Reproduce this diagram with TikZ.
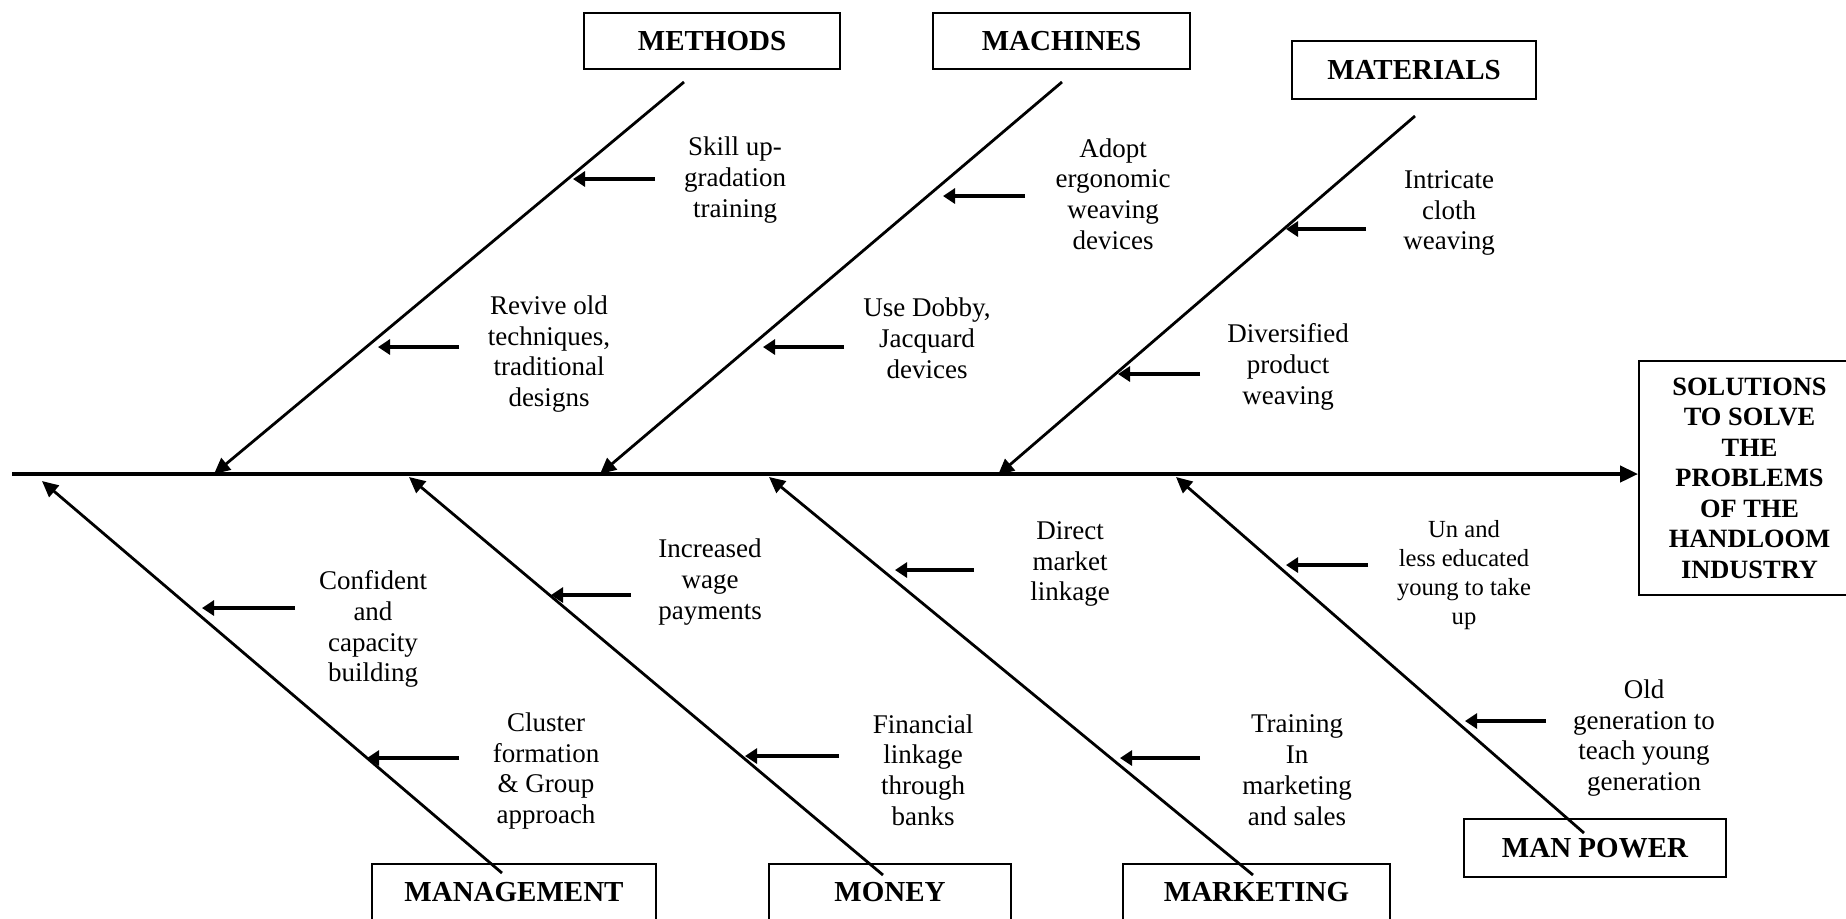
\documentclass[tikz,border=0pt]{standalone}
\usepackage{fontspec}
\setmainfont{Liberation Serif}
\usetikzlibrary{arrows.meta}
\begin{document}
\begin{tikzpicture}[x=0.5pt,y=-0.5pt,
  catbox/.style={draw, line width=0.9pt, inner sep=0pt, minimum height=28pt,
    font=\fontsize{14.5}{17}\selectfont\bfseries},
  resbox/.style={draw, line width=0.9pt, inner sep=0pt, align=center,
    font=\fontsize{13.2}{15.25}\selectfont\bfseries},
  lbl/.style={inner sep=0pt, align=center, font=\fontsize{13.5}{15.4}\selectfont},
  lblsmall/.style={inner sep=0pt, align=center, font=\fontsize{12.3}{14.6}\selectfont},
  spine/.style={line width=2pt, -{Triangle[length=9pt,width=8pt]}},
  bone/.style={line width=1.4pt, -{Triangle[length=8pt,width=7.5pt]}},
  cause/.style={line width=2pt, -{Triangle[length=6pt,width=7.5pt]}}
]
\useasboundingbox (0,0) rectangle (1846,918);

% effect box
\node[resbox, minimum width=110.5pt, minimum height=117pt] (res) at (1749.5,478)
  {SOLUTIONS\\TO SOLVE\\THE\\PROBLEMS\\OF THE\\HANDLOOM\\INDUSTRY};

% spine
\coordinate (sp0) at (12,474);
\draw[spine] (sp0) -- (sp0 -| res.west);

% category boxes
\node[catbox, minimum width=128pt] (meth) at (712,41) {METHODS};
\node[catbox, minimum width=128.5pt] (mach) at (1061.5,41) {MACHINES};
\node[catbox, minimum width=122pt, minimum height=29pt] (mat) at (1414,70) {MATERIALS};
\node[catbox, minimum width=142pt] (mgmt) at (514,892) {MANAGEMENT};
\node[catbox, minimum width=121pt] (mon) at (890,892) {MONEY};
\node[catbox, minimum width=133.5pt] (mkt) at (1256.5,892) {MARKETING};
\node[catbox, minimum width=131pt, minimum height=29pt] (man) at (1595,848) {MAN POWER};

% bone end points
\coordinate (methA) at (684,82);   \coordinate (methB) at (214,474);
\coordinate (machA) at (1062,82);  \coordinate (machB) at (600,474);
\coordinate (matA) at (1415,116);  \coordinate (matB) at (998,475);
\coordinate (mgmtA) at (502,873);  \coordinate (mgmtB) at (42,481);
\coordinate (monA) at (883,875);   \coordinate (monB) at (409,477);
\coordinate (mktA) at (1253,875);  \coordinate (mktB) at (769,477);
\coordinate (manA) at (1584,833);  \coordinate (manB) at (1176,477);

\draw[bone] (methA) -- (methB);
\draw[bone] (machA) -- (machB);
\draw[bone] (matA) -- (matB);
\draw[bone] (mgmtA) -- (mgmtB);
\draw[bone] (monA) -- (monB);
\draw[bone] (mktA) -- (mktB);
\draw[bone] (manA) -- (manB);

% cause arrows
\coordinate (a1s) at (655,179);  \coordinate (a1e) at (573,179);
\coordinate (a2s) at (459,347);  \coordinate (a2e) at (378,347);
\coordinate (a3s) at (1025,196); \coordinate (a3e) at (943,196);
\coordinate (a4s) at (844,347);  \coordinate (a4e) at (763,347);
\coordinate (a5s) at (1366,229); \coordinate (a5e) at (1286,229);
\coordinate (a6s) at (1200,374); \coordinate (a6e) at (1118,374);
\coordinate (b1s) at (295,608);  \coordinate (b1e) at (202,608);
\coordinate (b2s) at (459,758);  \coordinate (b2e) at (367,758);
\coordinate (b3s) at (631,595);  \coordinate (b3e) at (551,595);
\coordinate (b4s) at (839,756);  \coordinate (b4e) at (745,756);
\coordinate (b5s) at (974,570);  \coordinate (b5e) at (895,570);
\coordinate (b6s) at (1200,758); \coordinate (b6e) at (1120,758);
\coordinate (b7s) at (1368,565); \coordinate (b7e) at (1286,565);
\coordinate (b8s) at (1546,721); \coordinate (b8e) at (1465,721);

\foreach \p in {a1,a2,a3,a4,a5,a6,b1,b2,b3,b4,b5,b6,b7,b8}
  \draw[cause] (\p s) -- (\p e);

% cause labels
\node[lbl] (t1) at (735,180) {Skill up-\\gradation\\training};
\node[lbl] (t2) at (549,354) {Revive old\\techniques,\\traditional\\designs};
\node[lbl] (t3) at (1113,194) {Adopt\\ergonomic\\weaving\\devices};
\node[lbl] (t4) at (927,338) {Use Dobby,\\Jacquard\\devices};
\node[lbl] (t5) at (1449,213) {Intricate\\cloth\\weaving};
\node[lbl] (t6) at (1288,367) {Diversified\\product\\weaving};
\node[lbl] (u1) at (373,629) {Confident\\and\\capacity\\building};
\node[lbl] (u2) at (546,771) {Cluster\\formation\\\& Group\\approach};
\node[lbl] (u3) at (710,582) {Increased\\wage\\payments};
\node[lbl] (u4) at (923,770) {Financial\\linkage\\through\\banks};
\node[lbl] (u5) at (1070,564) {Direct\\market\\linkage};
\node[lbl] (u6) at (1297,770) {Training\\In\\marketing\\and sales};
\node[lblsmall] (u7) at (1464,575) {Un and\\less educated\\young to take\\up};
\node[lbl] (u8) at (1644,738) {Old\\generation to\\teach young\\generation};
\end{tikzpicture}
\end{document}
